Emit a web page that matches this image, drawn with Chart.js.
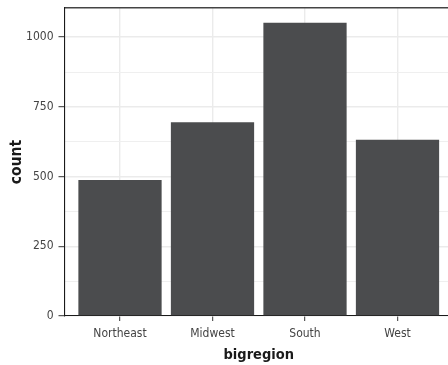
<!DOCTYPE html>
<html>
<head>
<meta charset="utf-8">
<script src="https://cdn.jsdelivr.net/npm/chart.js@4"></script>
<style>
  html, body { margin: 0; padding: 0; background: #fff; overflow: hidden; }
  #wrap { width: 453px; height: 365px; }
</style>
</head>
<body>
<div id="wrap"><canvas id="barChart" width="453" height="365"></canvas></div>
<script>
// bigregion counts (gss_sm)
const regions = ["Northeast", "Midwest", "South", "West"];
const counts = [488, 695, 1052, 632];
const yTicksMajor = [0, 250, 500, 750, 1000];

const FONT = "'Liberation Sans Narrow', 'DejaVu Sans Condensed', sans-serif";
const isMajor = v => yTicksMajor.includes(v);

const ctx = document.getElementById("barChart").getContext("2d");
new Chart(ctx, {
  type: "bar",
  data: {
    datasets: [{
      label: "count",
      data: counts.map((c, i) => ({ x: i, y: c })),
      backgroundColor: "#4b4c4e",
      barPercentage: 0.9,
      categoryPercentage: 1
    }]
  },
  options: {
    responsive: false,
    animation: false,
    layout: { padding: { top: 8, left: 0, right: 0, bottom: 0 } },
    plugins: { legend: { display: false }, tooltip: { enabled: false } },
    scales: {
      x: {
        type: "linear",
        position: "bottom",
        offset: false,
        min: -0.6,
        max: regions.length - 0.4,
        afterFit: s => { s.height = 49; s.paddingLeft = 0; s.paddingRight = 0; },
        ticks: {
          stepSize: 1,
          includeBounds: false,
          autoSkip: false,
          maxRotation: 0,
          padding: 6,
          color: "#444",
          font: { family: FONT, size: 12 },
          callback: v => regions[v] ?? ""
        },
        grid: { offset: false, color: "#ebebeb", lineWidth: 1.4, tickColor: "#333", tickLength: 5, tickWidth: 1 },
        border: { display: true, color: "#1a1a1a", width: 1.1 },
        title: {
          display: true,
          text: "bigregion",
          color: "#1a1a1a",
          font: { family: FONT, size: 14.5, weight: "bold", lineHeight: 1.2 },
          padding: { top: 0, bottom: 1 }
        }
      },
      xTop: {
        type: "linear",
        position: "top",
        min: 0,
        max: 1,
        afterFit: s => { s.height = 0; },
        ticks: { display: false },
        grid: { drawOnChartArea: false, drawTicks: false },
        border: { display: true, color: "#444", width: 1.6 }
      },
      y: {
        min: 0,
        max: Math.max(...counts) * 1.05,
        afterFit: s => { s.width = 64.5; s.paddingTop = 0; s.paddingBottom = 0; },
        ticks: {
          stepSize: 125,
          includeBounds: false,
          padding: 5,
          color: "#444",
          font: { family: FONT, size: 12 },
          callback: v => isMajor(v) ? String(v) : ""
        },
        grid: {
          color: c => isMajor(c.tick.value) ? "#ebebeb" : "#efefef",
          lineWidth: c => isMajor(c.tick.value) ? 1.4 : 1,
          tickColor: c => isMajor(c.tick.value) ? "#333" : "rgba(0,0,0,0)",
          tickLength: 6,
          tickWidth: 1
        },
        border: { display: true, color: "#1a1a1a", width: 1.1 },
        title: {
          display: true,
          text: "count",
          color: "#1a1a1a",
          font: { family: FONT, size: 15.5, weight: "bold", lineHeight: 1.2 },
          padding: { top: 8, bottom: 0 }
        }
      }
    }
  }
});
</script>
</body>
</html>
